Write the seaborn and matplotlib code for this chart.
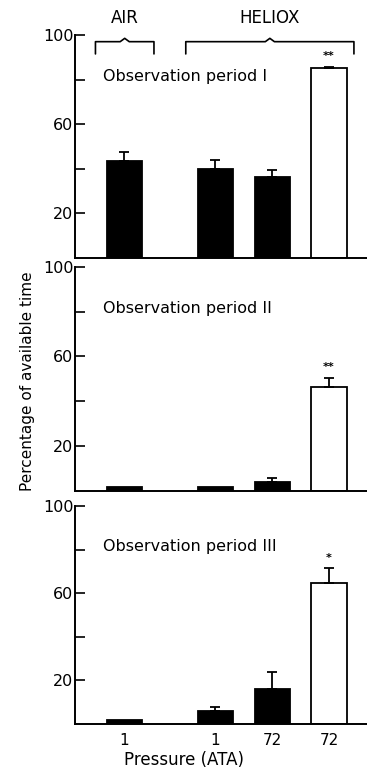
import matplotlib
matplotlib.use("Agg")
import matplotlib.pyplot as plt
import seaborn as sns
import pandas as pd

sns.set_style("ticks")
plt.rcParams["font.family"] = ["DejaVu Sans"]
plt.rcParams["text.color"] = "black"
plt.rcParams["xtick.color"] = "black"
plt.rcParams["ytick.color"] = "black"
plt.rcParams["axes.labelcolor"] = "black"
plt.rcParams["axes.edgecolor"] = "black"

# bar positions (air 1 ATA, heliox 1, 72, 72) and labels
positions = [0, 1.6, 2.6, 3.6]
tick_labels = ["1", "1", "72", "72"]
bar_colors = ["black", "black", "black", "white"]

period_names = ["Observation period I", "Observation period II", "Observation period III"]
means_p1 = [43.5, 39.6, 36.0, 85.0]
means_p2 = [1.7, 1.7, 3.7, 46.4]
means_p3 = [1.6, 5.7, 15.8, 64.8]
errs_p1 = [4.0, 4.1, 3.2, 0.8]
errs_p2 = [0.0, 0.0, 1.9, 4.0]
errs_p3 = [0.0, 1.7, 7.9, 6.5]
stars = ["**", "**", "*"]

all_means = [means_p1, means_p2, means_p3]
all_errs = [errs_p1, errs_p2, errs_p3]

fig = plt.figure(figsize=(3.67, 7.73), dpi=100)
W, H = 367, 773
boxes = [(35, 257.5), (267, 490.5), (506, 723.5)]
left = 75

axes = []
for i, (top, bot) in enumerate(boxes):
    ax = fig.add_axes([left / W, (H - bot) / H, 1 - left / W, (bot - top) / H])
    df = pd.DataFrame({"pos": positions, "val": all_means[i], "c": bar_colors})
    sns.barplot(data=df, x="pos", y="val", hue="c", palette={"black": "black", "white": "white"},
                native_scale=True, width=0.62, edgecolor="black", linewidth=1.3,
                errorbar=None, legend=False, ax=ax)
    errs = all_errs[i]
    for x, m, e in zip(positions, all_means[i], errs):
        if e > 0:
            ax.errorbar(x, m, yerr=[[0], [e]], fmt="none", ecolor="black",
                        elinewidth=1.3, capsize=3.5, capthick=1.3)
    ax.text(positions[3], all_means[i][3] + errs[3] + 2.5, stars[i], ha="center",
            va="bottom", fontsize=8, fontweight="bold")
    ax.text(-0.38, 81.5, period_names[i], fontsize=11.5, va="center", ha="left")
    ax.set_xlim(-0.87, 4.27)
    ax.set_ylim(0, 100)
    ax.set_yticks([20, 40, 60, 80, 100])
    ax.set_yticklabels(["20", "", "60", "", "100"], fontsize=11.5)
    ax.tick_params(axis="y", direction="in", length=7, width=1.2, pad=1)
    ax.set_xlabel("")
    ax.set_ylabel("")
    sns.despine(ax=ax)
    ax.spines["left"].set_linewidth(1.4)
    ax.spines["bottom"].set_linewidth(1.4)
    if i < 2:
        ax.set_xticks([])
    else:
        ax.set_xticks(positions)
        ax.set_xticklabels(tick_labels, fontsize=11)
        ax.tick_params(axis="x", length=0, pad=7)
        ax.set_xlabel("Pressure (ATA)", fontsize=12)
        ax.xaxis.set_label_coords(0.373, -0.128)
    axes.append(ax)

# group brackets on top panel
ax = axes[0]
def bracket(ax, x0, x1, y0, y1, label):
    xm = (x0 + x1) / 2
    ax.plot([x0, x0, xm - 0.08, xm, xm + 0.08, x1, x1],
            [y0, y1, y1, y1 + 1.5, y1, y1, y0], color="black", lw=1.2, clip_on=False)
    ax.text(xm, 103.5, label, ha="center", va="bottom", fontsize=12)

bracket(ax, -0.51, 0.52, 91.5, 97, "AIR")
bracket(ax, 1.08, 4.04, 91.5, 97, "HELIOX")

fig.text(28 / W, 1 - 381 / H, "Percentage of available time", rotation=90,
         ha="center", va="center", fontsize=11)

fig.savefig("out.png", dpi=100)
